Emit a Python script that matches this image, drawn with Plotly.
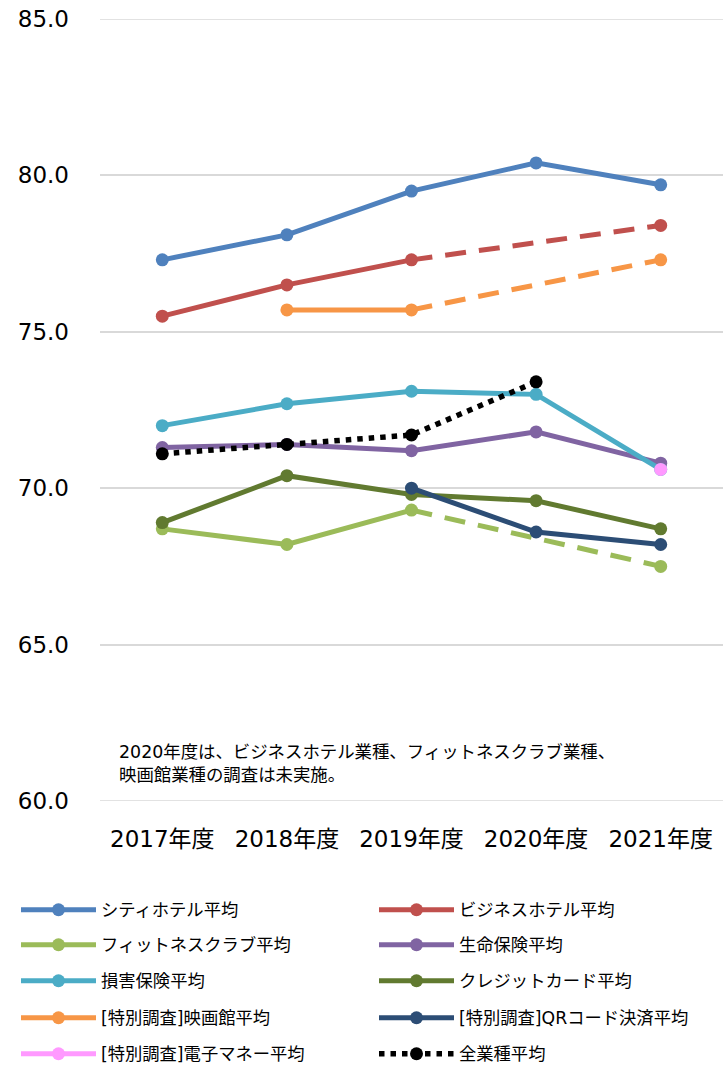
import plotly.graph_objects as go

categories = ["2017年度", "2018年度", "2019年度", "2020年度", "2021年度"]

city_hotel = [77.3, 78.1, 79.5, 80.4, 79.7]
business_hotel = [75.5, 76.5, 77.3, None, 78.4]
fitness = [68.7, 68.2, 69.3, None, 67.5]
life_ins = [71.3, 71.4, 71.2, 71.8, 70.8]
nonlife_ins = [72.0, 72.7, 73.1, 73.0, 70.6]
credit_card = [68.9, 70.4, 69.8, 69.6, 68.7]
movie = [None, 75.7, 75.7, None, 77.3]
qr_code = [None, None, 70.0, 68.6, 68.2]
e_money = [None, None, None, None, 70.6]
all_industry = [71.1, 71.4, 71.7, 73.4, None]

y_ticks = [60, 65, 70, 75, 80, 85]

series = [
    ("シティホテル平均", city_hotel, "#4F81BD"),
    ("ビジネスホテル平均", business_hotel, "#C0504D"),
    ("フィットネスクラブ平均", fitness, "#9BBB59"),
    ("生命保険平均", life_ins, "#8064A2"),
    ("損害保険平均", nonlife_ins, "#4BACC6"),
    ("クレジットカード平均", credit_card, "#617A30"),
    ("[特別調査]映画館平均", movie, "#F79646"),
    ("[特別調査]QRコード決済平均", qr_code, "#2C4D75"),
    ("[特別調査]電子マネー平均", e_money, "#FF99FF"),
]

note = "2020年度は、ビジネスホテル業種、フィットネスクラブ業種、<br>映画館業種の調査は未実施。"

FONT = "DejaVu Sans, Noto Sans CJK JP"
legend_ids = ["legend", "legend2", "legend3", "legend4", "legend5"]
GRID = "#D9D9D9"

# body margin removed below; plot area (page px): x 100..723, y 19..801
W, H = 723, 1067
PL, PT, PW, PH = 100, 19, 623, 782

def px_x(x):
    return (x - PL) / PW

def px_y(y):
    return (PT + PH - y) / PH

fig = go.Figure()

# gridlines at the range ends (plotly clips those)
for yv in (y_ticks[0], y_ticks[-1]):
    fig.add_shape(type="line", xref="paper", yref="y", x0=0, x1=1, y0=yv, y1=yv,
                  line=dict(color=GRID, width=1.5), layer="below")

# dashed bridges for gaps
for name, vals, color in series:
    for i in range(1, len(vals) - 1):
        if vals[i] is None and vals[i - 1] is not None and vals[i + 1] is not None:
            fig.add_trace(go.Scatter(
                x=[categories[i - 1], categories[i + 1]],
                y=[vals[i - 1], vals[i + 1]],
                mode="lines", showlegend=False, hoverinfo="skip",
                line=dict(color=color, width=5, dash="21px,13px"),
            ))

for k, (name, vals, color) in enumerate(series):
    fig.add_trace(go.Scatter(
        x=categories, y=vals, name=name, mode="lines+markers",
        connectgaps=False, legend=legend_ids[k // 2],
        line=dict(color=color, width=5),
        marker=dict(color=color, size=13),
    ))

fig.add_trace(go.Scatter(
    x=categories, y=all_industry, name="全業種平均", mode="lines+markers",
    legend=legend_ids[4],
    line=dict(color="black", width=5.5, dash="5.5px,6px"),
    marker=dict(color="black", size=13),
))

fig.add_annotation(
    text=note, xref="paper", yref="y", x=px_x(117), y=61.2,
    xanchor="left", yanchor="middle", align="left", showarrow=False,
    font=dict(family=FONT, size=17.4, color="#000000"),
)

row_centers = [910, 945, 981, 1018, 1054]
legend_common = dict(
    orientation="h", xanchor="left", yanchor="middle",
    entrywidth=268, entrywidthmode="pixels", itemwidth=75,
    font=dict(family=FONT, size=17.3, color="#000000"),
    traceorder="normal", bgcolor="rgba(0,0,0,0)",
)
legends = {}
for lid, py in zip(legend_ids, row_centers):
    legends[lid] = dict(legend_common, x=px_x(16), y=px_y(py))

fig.update_layout(
    width=W, height=H,
    margin=dict(l=PL, r=W - PL - PW, t=PT, b=H - PT - PH, autoexpand=False),
    paper_bgcolor="white", plot_bgcolor="white",
    font=dict(family=FONT, color="#000000"),
    showlegend=True,
    **legends,
)

fig.update_xaxes(
    type="category", categoryorder="array", categoryarray=categories,
    range=[-0.5, 4.5], showgrid=False, showline=False,
    ticks="", tickfont=dict(family=FONT, size=23, color="#000000"),
    ticklabelstandoff=22, automargin=False,
)
fig.update_yaxes(
    range=[y_ticks[0], y_ticks[-1]], tickvals=y_ticks, tickformat=".1f",
    showgrid=True, gridcolor=GRID, gridwidth=1.5, zeroline=False, showline=False,
    ticks="", tickfont=dict(family=FONT, size=23, color="#000000"),
    ticklabelstandoff=30, automargin=False, ticklabeloverflow="allow",
)

fig.write_html(
    "out.html",
    config={"displayModeBar": False},
    post_script="document.body.style.margin='0';document.body.style.overflow='hidden';",
)
